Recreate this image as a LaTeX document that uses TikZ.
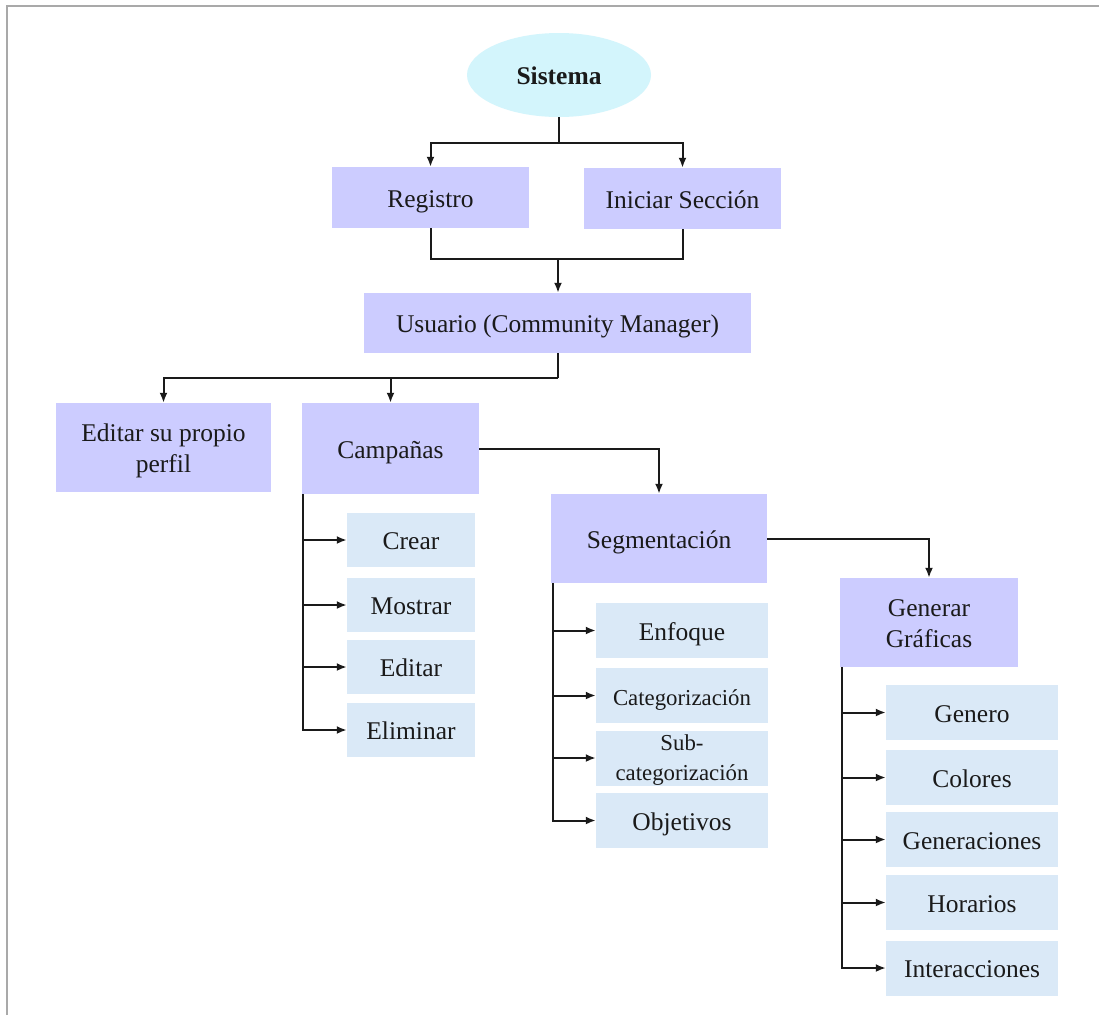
\documentclass[tikz,border=0pt]{standalone}
\usepackage{fontspec}
\setmainfont{Liberation Serif}
\usetikzlibrary{shapes.geometric,arrows.meta,calc}
\definecolor{mainbox}{HTML}{CCCCFF}
\definecolor{subbox}{HTML}{DAE9F7}
\definecolor{ellfill}{HTML}{D3F5FC}
\definecolor{framegray}{HTML}{A9A9A9}
\definecolor{ink}{HTML}{1A1A1A}
\begin{document}
\begin{tikzpicture}[x=1pt,y=-1pt,
  txt/.style={text=ink, align=center, inner sep=0pt, font=\fontsize{25.5}{30.5}\selectfont, text height=21pt, text depth=2pt},
  twoline/.style={text height=51pt, text depth=2pt},
  mainnode/.style={txt, fill=mainbox},
  subnode/.style={txt, fill=subbox, minimum width=172pt, minimum height=55pt},
  smallfont/.style={font=\fontsize{22.8}{30}\selectfont},
  conn/.style={draw=ink, line width=2pt},
  arr/.style={conn, -{Latex[length=10pt,width=8pt]}}
]
\useasboundingbox (0,0) rectangle (1099,1015);
\fill[white] (0,0) rectangle (1099,1015);
\draw[framegray, line width=2pt] (6.5,1015) -- (6.5,5.5) -- (1099,5.5);

% top level
\node[txt, shape=ellipse, fill=ellfill, minimum width=184pt, minimum height=84pt, font=\fontsize{25.5}{30}\selectfont\bfseries] (sis) at (559,75) {Sistema};
\node[mainnode, minimum width=197pt, minimum height=61pt] (reg) at (430.5,197.5) {Registro};
\node[mainnode, minimum width=197pt, minimum height=61pt] (ini) at (682.5,198.5) {Iniciar Sección};
\node[mainnode, minimum width=387pt, minimum height=60pt] (usu) at (557.5,323) {Usuario (Community Manager)};
\node[mainnode, twoline, minimum width=215pt, minimum height=89pt] (edi) at (163.5,447.5) {Editar su propio\\perfil};
\node[mainnode, minimum width=177pt, minimum height=91pt] (cam) at (390.5,448.5) {Campañas};
\node[mainnode, minimum width=216pt, minimum height=89pt] (seg) at (659,538.5) {Segmentación};
\node[mainnode, twoline, minimum width=178pt, minimum height=89pt] (gen) at (929,622.5) {Generar\\Gráficas};

% Campañas children
\node[subnode, minimum width=128pt, minimum height=54pt] (c1) at (411,540) {Crear};
\node[subnode, minimum width=128pt, minimum height=54pt] (c2) at (411,605) {Mostrar};
\node[subnode, minimum width=128pt, minimum height=54pt] (c3) at (411,667) {Editar};
\node[subnode, minimum width=128pt, minimum height=54pt] (c4) at (411,730) {Eliminar};

% Segmentación children
\node[subnode] (s1) at (682,630.5) {Enfoque};
\node[subnode, smallfont] (s2) at (682,695.5) {Categorización};
\node[subnode, smallfont, text height=46pt, text depth=2pt] (s3) at (682,758) {Sub-\\categorización};
\node[subnode] (s4) at (682,820.5) {Objetivos};

% Generar Gráficas children
\node[subnode] (g1) at (972,712.5) {Genero};
\node[subnode] (g2) at (972,777.5) {Colores};
\node[subnode] (g3) at (972,839.5) {Generaciones};
\node[subnode] (g4) at (972,902.5) {Horarios};
\node[subnode] (g5) at (972,968) {Interacciones};

% junctions
\coordinate (j1) at (559,143);
\coordinate (j2) at (558,259);
\coordinate (j3) at (558,378);

% connectors
\draw[conn] (sis.south) -- (j1);
\draw[arr] (j1) -| (reg.north);
\draw[arr] (j1) -| (ini.north);
\draw[conn] (reg.south) |- (j2);
\draw[conn] (ini.south) |- (j2);
\draw[arr] (j2) -- (j2 |- usu.north);
\draw[conn] (j2 |- usu.south) -- (j3);
\draw[arr] (j3) -| (edi.north);
\draw[arr] (j3) -| (cam.north);
\draw[arr] (cam.east) -| (seg.north);
\draw[arr] (seg.east) -| (gen.north);

\coordinate (cv) at ($(cam.south west)+(1,0)$);
\foreach \n in {c1,c2,c3,c4} \draw[arr] (cv) |- (\n.west);
\coordinate (sv) at ($(seg.south west)+(2,0)$);
\foreach \n in {s1,s2,s3,s4} \draw[arr] (sv) |- (\n.west);
\coordinate (gv) at ($(gen.south west)+(2,0)$);
\foreach \n in {g1,g2,g3,g4,g5} \draw[arr] (gv) |- (\n.west);
\end{tikzpicture}
\end{document}
